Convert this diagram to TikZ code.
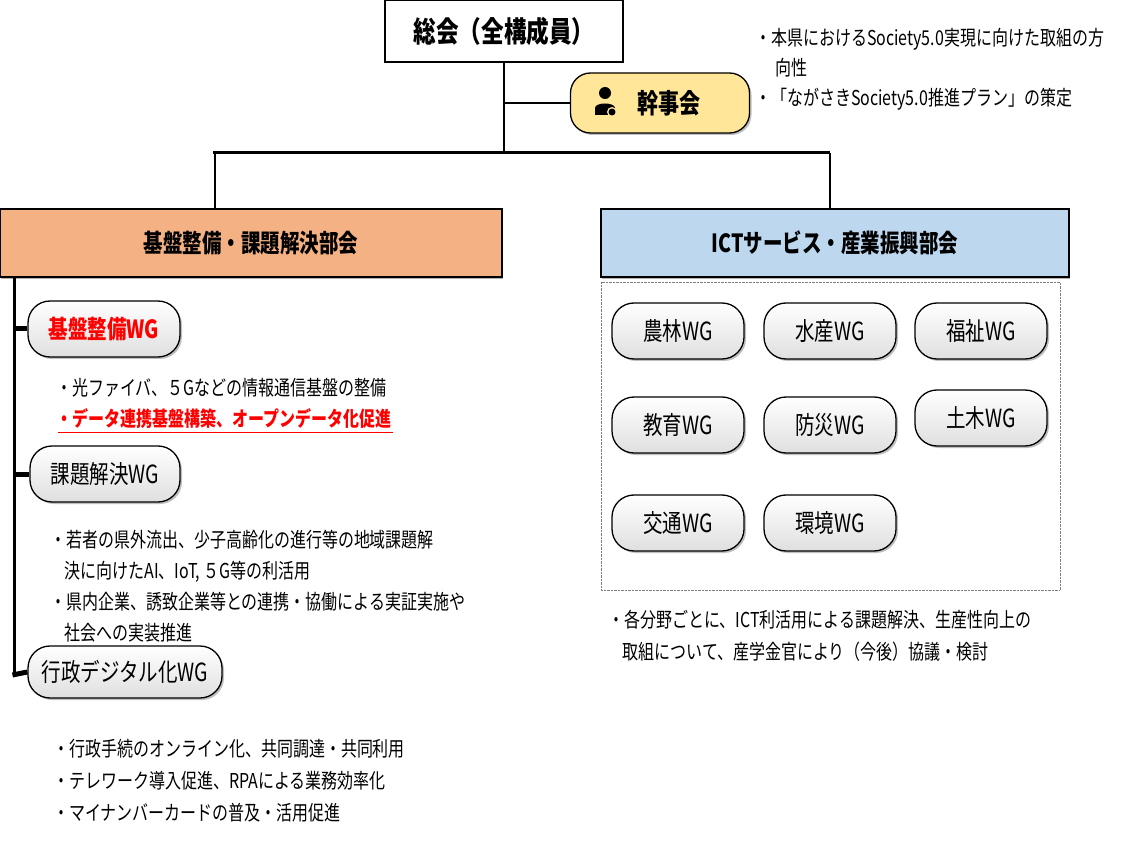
\documentclass[tikz,border=0pt]{standalone}
\usepackage{fontspec}
\setmainfont[FakeStretch=0.78]{Noto Sans CJK JP}
\usetikzlibrary{shadows}
\definecolor{orangef}{HTML}{F4B183}
\definecolor{bluef}{HTML}{BDD7EE}
\definecolor{yellowf}{HTML}{FFE699}
\definecolor{redt}{HTML}{FF0000}
\tikzset{
 box/.style={draw, line width=1.6pt, minimum height=0, inner sep=0},
 pill/.style={draw, line width=1.3pt, rounded corners=22pt, top color=white, bottom color=gray!25, drop shadow={shadow xshift=2pt, shadow yshift=-2pt, fill=black!50}},
 wgt/.style={font=\fontsize{25}{27}\selectfont},
 lst/.style={anchor=west, font=\fontsize{20.5}{22}\selectfont, inner sep=0},
 conn/.style={line width=1.4pt},
 thick/.style={line width=3pt}
}
\begin{document}
\begin{tikzpicture}[x=1pt,y=-1pt]
\useasboundingbox (0,0) rectangle (1133,850);
% top
\node[box, fill=white, minimum width=238pt, minimum height=62pt] (gen) at (504,31) {\fontsize{29}{31}\selectfont\bfseries 総会（全構成員）};
\node[pill, fill=yellowf, top color=yellowf, bottom color=yellowf, rounded corners=20pt, minimum width=179pt, minimum height=60pt] (kan) at (660,103) {};
\node[font=\fontsize{27}{29}\selectfont\bfseries] (kant) at (669,103) {幹事会};
% person icon
\fill (605,93) circle (6);
\fill (595,115) -- (595,108) .. controls (595,102) and (615,102) .. (615,108) -- (615,115) -- cycle;
\fill[yellowf] (612,112) circle (5); \fill (612,112) circle (3.5);
\node[lst, anchor=north west, align=left, font=\fontsize{20.5}{30}\selectfont] (ktxt) at (755,28) {・本県におけるSociety5.0実現に向けた取組の方\\\hspace{1em}向性\\・「ながさきSociety5.0推進プラン」の策定};
\coordinate (j) at (504,153);
\draw[conn] (gen.south) -- (j);
\draw[conn] (504,103) -- (kan.west);
% divisions
\node[box, fill=orangef, minimum width=502pt, minimum height=68pt, drop shadow={shadow xshift=1pt, shadow yshift=-2pt, fill=black!60}] (left) at (251,243) {\fontsize{25}{27}\selectfont\bfseries 基盤整備・課題解決部会};
\node[box, fill=bluef, minimum width=468pt, minimum height=68pt, drop shadow={shadow xshift=1pt, shadow yshift=-2pt, fill=black!60}] (right) at (835,243) {\fontsize{25}{27}\selectfont\bfseries ICTサービス・産業振興部会};
\draw[thick] (213,153) -- (830,153);
\draw[conn] (215,153) -- (215,209);
\draw[conn] (830,153) -- (830,209);
% left WGs
\node[pill, minimum width=152pt, minimum height=56pt] (w1) at (104,329) {};
\node[wgt, text=redt, font=\fontsize{25}{27}\selectfont\bfseries] at (w1) {基盤整備WG};
\node[pill, minimum width=150pt, minimum height=56pt] (w2) at (105,474) {};
\node[wgt] at (w2) {課題解決WG};
\node[pill, minimum width=194pt, minimum height=52pt] (w3) at (125,672) {};
\node[wgt] at (w3) {行政デジタル化WG};
\draw[thick] (14,277) -- (14,677);
\draw[line width=5pt] (14,329) -- (w1.west);
\draw[line width=5pt] (14,474) -- (w2.west);
\draw[line width=5pt] (12.5,675) -- (w3.west);
\node[lst] (l1) at (56,388) {・光ファイバ、５Gなどの情報通信基盤の整備};
\node[lst, text=redt, font=\fontsize{20.5}{22}\selectfont\bfseries] (l2) at (56,419) {・データ連携基盤構築、オープンデータ化促進};
\draw[redt, line width=1pt] (58,432) -- (393,432);
\node[lst, anchor=north west, align=left, font=\fontsize{20.5}{31}\selectfont] (l3) at (50,530) {・若者の県外流出、少子高齢化の進行等の地域課題解\\\hspace{0.7em}決に向けたAI、IoT, ５G等の利活用\\・県内企業、誘致企業等との連携・協働による実証実施や\\\hspace{0.7em}社会への実装推進};
\node[lst, anchor=north west, align=left, font=\fontsize{20.5}{32}\selectfont] (l4) at (53,739) {・行政手続のオンライン化、共同調達・共同利用\\・テレワーク導入促進、RPAによる業務効率化\\・マイナンバーカードの普及・活用促進};
% right WGs
\draw[densely dotted, gray] (601,282) rectangle (1060,590);
\foreach \n/\x/\y/\t in {a/678/331/農林WG, b/830/331/水産WG, c/981/331/福祉WG, d/678/425/教育WG, e/830/425/防災WG, f/981/418/土木WG, g/678/523/交通WG, h/830/523/環境WG}{
 \node[pill, minimum width=132pt, minimum height=56pt] (r\n) at (\x,\y) {};
 \node[wgt] at (r\n) {\t};
}
\node[lst, anchor=north west, align=left, font=\fontsize{20.5}{32}\selectfont] (rt) at (608,610) {・各分野ごとに、ICT利活用による課題解決、生産性向上の\\\hspace{0.7em}取組について、産学金官により（今後）協議・検討};
\end{tikzpicture}
\end{document}
